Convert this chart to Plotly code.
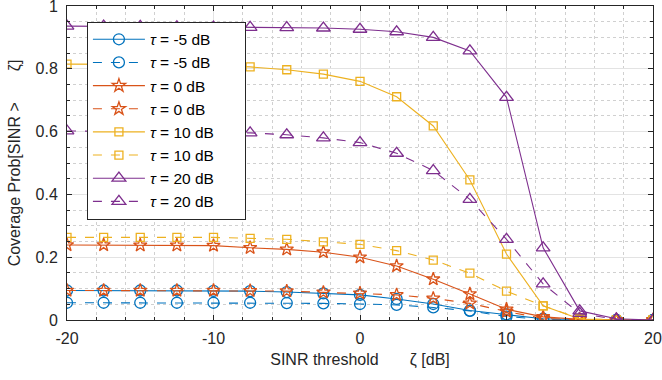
import plotly.graph_objects as go

x = [-20, -17.5, -15, -12.5, -10, -7.5, -5, -2.5, 0, 2.5, 5, 7.5, 10, 12.5, 15, 17.5, 20]

tau_m5_solid = [0.094, 0.094, 0.094, 0.094, 0.093, 0.092, 0.089, 0.085, 0.080, 0.067, 0.051, 0.030, 0.018, 0.004, 0.001, 0, 0]
tau_m5_dash = [0.055, 0.055, 0.055, 0.055, 0.055, 0.055, 0.054, 0.053, 0.051, 0.048, 0.040, 0.029, 0.011, 0.002, 0, 0, 0]
tau_0_solid = [0.239, 0.239, 0.238, 0.238, 0.237, 0.230, 0.225, 0.216, 0.200, 0.172, 0.130, 0.083, 0.034, 0.010, 0.002, 0, 0]
tau_0_dash = [0.094, 0.094, 0.094, 0.094, 0.094, 0.093, 0.092, 0.088, 0.085, 0.080, 0.069, 0.053, 0.027, 0.005, 0.001, 0, 0]
tau_10_solid = [0.815, 0.815, 0.814, 0.812, 0.810, 0.806, 0.797, 0.783, 0.760, 0.711, 0.618, 0.446, 0.210, 0.045, 0.003, 0, 0]
tau_10_dash = [0.263, 0.263, 0.263, 0.263, 0.263, 0.260, 0.257, 0.249, 0.241, 0.221, 0.191, 0.149, 0.092, 0.045, 0.005, 0, 0]
tau_20_solid = [0.936, 0.936, 0.935, 0.934, 0.933, 0.932, 0.931, 0.930, 0.926, 0.918, 0.900, 0.857, 0.709, 0.230, 0.029, 0.004, 0]
tau_20_dash = [0.602, 0.601, 0.600, 0.599, 0.598, 0.596, 0.590, 0.580, 0.565, 0.531, 0.476, 0.384, 0.257, 0.115, 0.021, 0.002, 0]

labels = ["-5", "-5", "0", "0", "10", "10", "20", "20"]
x_ticks = [-20, -10, 0, 10, 20]
x_ticktext = ["-20", "-10", "0", "10", "20"]
y_ticks = [0, 0.2, 0.4, 0.6, 0.8, 1]
y_ticktext = ["0", "0.2", "0.4", "0.6", "0.8", "1"]

series = [tau_m5_solid, tau_m5_dash, tau_0_solid, tau_0_dash,
          tau_10_solid, tau_10_dash, tau_20_solid, tau_20_dash]
colors = ["#0072BD", "#0072BD", "#D95319", "#D95319", "#EDB120", "#EDB120", "#7E2F8E", "#7E2F8E"]
dashes = ["solid", "dash"] * 4
symbols = ["circle-open", "circle-open", "star-open", "star-open",
           "square-open", "square-open", "triangle-up-open", "triangle-up-open"]
sizes = [11, 11, 10, 10, 8, 8, 12, 12]

FONT = "Liberation Sans, Arial, sans-serif"
NB = "\u00a0"

fig = go.Figure()
for lab, ys, c, d, s, sz in zip(labels, series, colors, dashes, symbols, sizes):
    fig.add_trace(go.Scatter(
        x=x, y=ys, mode="lines+markers",
        name=f"<i>τ</i> = {lab} dB" + NB * 6,
        line=dict(color=c, width=1.1, dash=d),
        marker=dict(symbol=s, size=sz, color=c, line=dict(width=1.3, color=c)),
    ))

axis_common = dict(
    showline=True, linecolor="#262626", linewidth=1, mirror="ticks",
    ticks="inside", ticklen=5, tickcolor="#262626",
    showgrid=True, gridcolor="#e3e3e3", gridwidth=1, zeroline=False,
    tickfont=dict(family=FONT, size=16, color="#262626"),
    automargin=False, ticklabeloverflow="allow",
)

fig.update_xaxes(
    range=[-20, 20], tickvals=x_ticks, ticktext=x_ticktext,
    ticklabelstandoff=4,
    title=dict(text="SINR threshold" + NB * 7 + "ζ [dB]", standoff=7,
               font=dict(family=FONT, size=16, color="#262626")),
    minor=dict(dtick=2, tick0=0, ticks="inside", ticklen=3, tickcolor="#262626",
               showgrid=True, gridcolor="#d0d0d0", griddash="dot", gridwidth=1),
    **axis_common,
)
fig.update_yaxes(
    range=[0, 1], tickvals=y_ticks, ticktext=y_ticktext,
    ticklabelstandoff=5,
    title=dict(text=NB * 4 + "Coverage Prob[SINR >" + NB * 7 + "ζ]", standoff=10,
               font=dict(family=FONT, size=16, color="#262626")),
    minor=dict(dtick=0.05, tick0=0, ticks="inside", ticklen=3, tickcolor="#262626",
               showgrid=True, gridcolor="#d0d0d0", griddash="dot", gridwidth=1),
    **axis_common,
)

fig.update_layout(
    width=662, height=380,
    margin=dict(l=67, r=9, t=6, b=60),
    plot_bgcolor="white", paper_bgcolor="white",
    legend=dict(x=0.034, y=0.95, xanchor="left", yanchor="top",
                bgcolor="white", bordercolor="#262626", borderwidth=1,
                font=dict(family=FONT, size=15.5, color="black"),
                itemwidth=52, tracegroupgap=0),
    showlegend=True,
)

fig.write_html("out.html", config={"displayModeBar": False},
               post_script="document.body.style.margin='0';")
